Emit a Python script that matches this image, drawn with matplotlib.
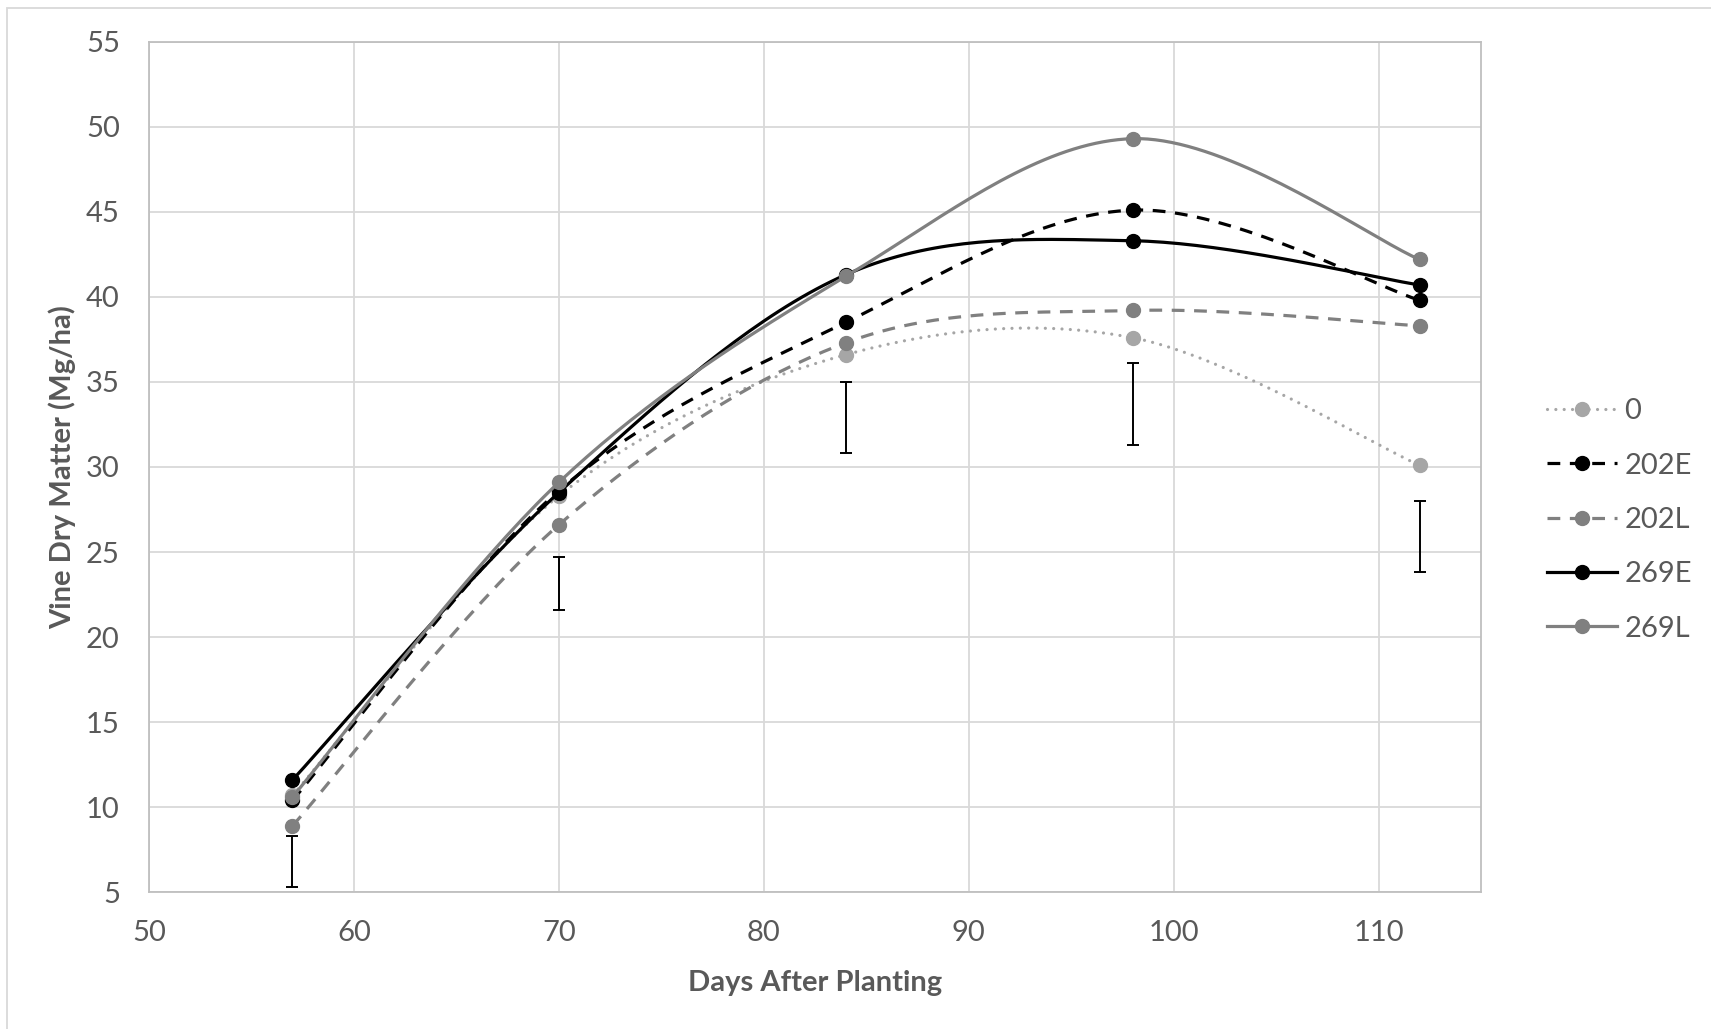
"""Vine dry matter over days after planting, Excel-style smoothed lines."""

import matplotlib
matplotlib.use("Agg")
import matplotlib.pyplot as plt
import numpy as np
from matplotlib.lines import Line2D
from matplotlib.patches import Rectangle

plt.rcParams["font.family"] = ["Lato", "DejaVu Sans"]

DAYS = [57, 70, 84, 98, 112]

SERIES_NAMES = ["0", "202E", "202L", "269E", "269L"]
VALUES_0 = [10.7, 28.3, 36.6, 37.6, 30.1]
VALUES_202E = [10.4, 28.6, 38.5, 45.1, 39.8]
VALUES_202L = [8.9, 26.6, 37.3, 39.2, 38.3]
VALUES_269E = [11.6, 28.5, 41.3, 43.3, 40.7]
VALUES_269L = [10.6, 29.1, 41.2, 49.3, 42.2]

# LSD bars drawn below the curves
LSD_CENTER = [6.8, 23.15, 32.9, 33.7, 25.9]
LSD_HALF = [1.5, 1.55, 2.1, 2.4, 2.1]

X_TICKS = [50, 60, 70, 80, 90, 100, 110]
Y_TICKS = [5, 10, 15, 20, 25, 30, 35, 40, 45, 50, 55]

TEXT_GREY = "#595959"


def smooth_curve(xs, ys, steps=40):
    """Catmull-Rom style bezier like Excel's 'smoothed line'."""
    pts = np.column_stack([xs, ys]).astype(float)
    ext = np.vstack([pts[0], pts, pts[-1]])
    out = []
    t = np.linspace(0, 1, steps)[:, None]
    for i in range(len(pts) - 1):
        p0, p1 = ext[i + 1], ext[i + 2]
        c1 = p0 + (ext[i + 2] - ext[i]) / 6
        c2 = p1 - (ext[i + 3] - ext[i + 1]) / 6
        seg = ((1 - t) ** 3) * p0 + 3 * ((1 - t) ** 2) * t * c1 + 3 * (1 - t) * t ** 2 * c2 + t ** 3 * p1
        out.append(seg if i == 0 else seg[1:])
    curve = np.vstack(out)
    return curve[:, 0], curve[:, 1]


STYLES = {
    "0": dict(color="#a6a6a6", ls=(0, (0.01, 2.6)), capstyle="round"),
    "202E": dict(color="#000000", ls=(0, (4, 3)), capstyle="butt"),
    "202L": dict(color="#808080", ls=(0, (4, 3)), capstyle="butt"),
    "269E": dict(color="#000000", ls="-", capstyle="round"),
    "269L": dict(color="#808080", ls="-", capstyle="round"),
}

LW = 2.3
MS = 10

fig = plt.figure(figsize=(17.11, 10.29), dpi=100)
ax = fig.add_axes([149 / 1711, 1 - 892.3 / 1029, 1332 / 1711, 850.6 / 1029])

ax.errorbar(DAYS, LSD_CENTER, yerr=LSD_HALF, fmt="none", ecolor="black",
            elinewidth=1.4, capsize=4.5, capthick=1.4, zorder=2)

all_values = [VALUES_0, VALUES_202E, VALUES_202L, VALUES_269E, VALUES_269L]
handles = []
for k, (name, vals) in enumerate(zip(SERIES_NAMES, all_values)):
    st = STYLES[name]
    sx, sy = smooth_curve(DAYS, vals)
    ax.plot(sx, sy, color=st["color"], linestyle=st["ls"], lw=LW,
            dash_capstyle=st["capstyle"], solid_capstyle="round", zorder=3 + k)
    ax.plot(DAYS, vals, "o", color=st["color"], ms=MS, mec=st["color"], zorder=3 + k)
    handles.append(Line2D([], [], color=st["color"], linestyle=st["ls"], lw=LW,
                          dash_capstyle=st["capstyle"], marker="o", ms=MS,
                          mec=st["color"]))

ax.set_xlim(50, 115)
ax.set_ylim(5, 55)
ax.set_xticks(X_TICKS)
ax.set_yticks(Y_TICKS)
ax.grid(True, color="#d9d9d9", lw=1.3)
ax.set_axisbelow(True)
for sp in ax.spines.values():
    sp.set_color("#bfbfbf")
    sp.set_linewidth(1.3)
ax.tick_params(length=0, labelsize=21, labelcolor=TEXT_GREY)
ax.tick_params(axis="y", pad=21)
ax.tick_params(axis="x", pad=20)

ax.set_xlabel("Days After Planting", fontsize=21, fontweight="bold", color=TEXT_GREY)
ax.set_ylabel("Vine Dry Matter (Mg/ha)", fontsize=21, fontweight="bold", color=TEXT_GREY)
ax.xaxis.label.set_verticalalignment("center")
ax.yaxis.label.set_verticalalignment("center")
ax.xaxis.set_label_coords(0.5, -0.1066)
ax.yaxis.set_label_coords(-0.065, 0.5)

fig.legend(handles, SERIES_NAMES, loc="center left",
           bbox_to_anchor=(1547 / 1711, 1 - 520 / 1029), frameon=False,
           fontsize=21, labelcolor=TEXT_GREY, handlelength=2.4,
           handletextpad=0.25, labelspacing=0.97, numpoints=1, borderpad=0,
           borderaxespad=0)

fig.patches.append(Rectangle((7 / 1711, -0.1), 1.1, 1.1 - 8 / 1029, fill=False,
                             edgecolor="#d9d9d9", lw=1.3, transform=fig.transFigure))

fig.savefig("out.png", dpi=100, facecolor="white")
